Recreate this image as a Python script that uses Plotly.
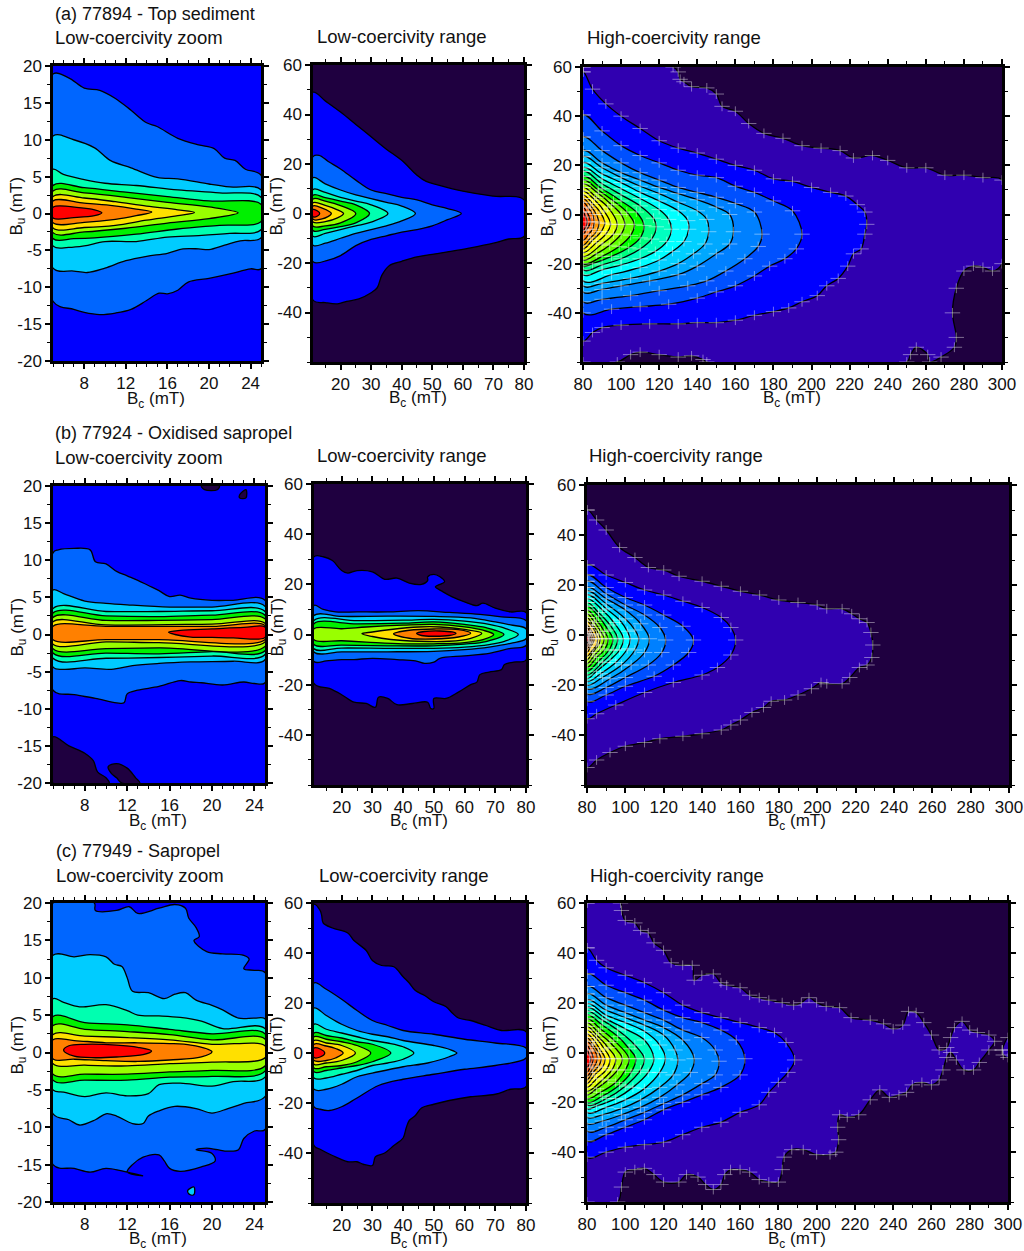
import plotly.graph_objects as go

# ---------- colours of the filled levels, outermost first ----------
DARK = "#1f0040"
INDIGO = "#3000b0"
BLUE = "#0000ff"
LOW_LEVELS = ["#0066ff", "#00ccff", "#00ffb0", "#00f000", "#99ff00", "#ffe000", "#ff8000", "#ff0000"]
RANGE_LEVELS = [BLUE, "#0066ff", "#00ccff", "#00ffb0", "#00f000", "#99ff00", "#ffe000", "#ff8000", "#ff0000"]
HIGH_LEVELS = [INDIGO, BLUE, "#0050ff", "#0080ff", "#00a8ff", "#00d0ff", "#00ffff", "#00ffc0", "#00ff80", "#00ff00",
               "#60ff00", "#a0ff00", "#e0ff00", "#ffff00", "#ffc800", "#ff9800", "#ff6800", "#ff3800", "#ff0000"]

# ---------- contour outlines: (Bc mT, Bu mT) ----------
A1 = [
 [(5,20),(25,20),(25,-20),(5,-20)],
 [(5,18.9),(6.5,18.4),(8,17),(9.5,16.7),(11,15.6),(12.5,14),(14,12.3),(15,11.8),(17,10.2),(19,9.3),(20.5,8.8),(21.5,7.5),(22.5,7.2),(23.5,6),(25,5.2),
  (25,-7.5),(24,-7.5),(22,-8.2),(20,-8.8),(18,-9.3),(17,-10.4),(16,-10.9),(15.2,-10.8),(14,-11.8),(12.5,-13),(11,-13.5),(9.5,-13.7),(8,-13.4),(7,-13),(5,-11.9)],
 [(5,10.5),(7,10),(9,8.9),(10.5,7.2),(12.5,6.2),(15,4.9),(17,4.7),(20,4),(22,3.6),(25,3.2),
  (25,-3.3),(23,-3.7),(21.5,-4.3),(20,-4.9),(19,-4.8),(17.5,-4.8),(16,-5.4),(14,-5.8),(12,-6.4),(10,-7.4),(8.3,-8),(7,-7.8),(5,-7.4)],
 [(5,6),(6,5.3),(8,4.6),(10,4.1),(13,3.8),(17,3.2),(21,2.8),(25,2.2),
  (25,-2.2),(22,-2.7),(19,-3),(16,-3.2),(13,-3.8),(10,-3.8),(8,-4.4),(6.5,-4.6),(5,-4.4)],
 [(5,3.8),(8,3.5),(12,2.9),(16,2.3),(20,1.7),(25,1.25),
  (25,-1.1),(21,-1.6),(17,-2.1),(13,-2.8),(9,-3.3),(7,-3.4),(5,-3.4)],
 [(5,3.05),(8,2.8),(12,2.2),(16,1.5),(20,0.9),(22.8,0.1),(20,-0.7),(16,-1.3),(12,-2),(8,-2.5),(5,-2.6)],
 [(5,2.3),(8,2.1),(11,1.6),(14,1.0),(17,.5),(18.6,.15),(17,-.3),(14,-.9),(11,-1.6),(8,-1.9),(5,-1.95)],
 [(5,1.7),(8,1.4),(10.5,1.1),(13,.6),(14.5,.2),(13,-.3),(11,-.8),(8,-1.2),(5,-1.25)],
 [(5,.85),(7.5,.8),(9,.5),(9.7,.1),(9,-.3),(7,-.55),(5,-.6)],
]
A1_COLOURS = [BLUE] + LOW_LEVELS

A2 = [
 [(11,49),(15,45.5),(20,41),(25,36),(30,31),(35,26),(40,21.5),(45,15.5),(48,13),(52,11.5),(60,9),(70,7),(80,5.5),
  (80,-9.3),(75,-10.3),(70,-12),(62,-14),(55,-15.5),(50,-16.5),(45,-17.5),(40,-19.3),(36,-21),(33.5,-25),(32,-30),(30,-32),(26,-34.5),(22,-35.5),(19,-36.5),(15,-36),(11,-35)],
 [(11,23),(13,23.5),(16,21),(20,18),(25,13.5),(30,9.5),(35,8),(40,6.5),(45,5.5),(50,3.5),(55,2),(59.5,0),
  (55,-2.5),(50,-5),(45,-6.5),(40,-7.5),(35,-9),(30,-10.5),(25,-13),(20,-17),(16,-18.8),(11,-19.5)],
 [(11,14.5),(15,12),(20,9.5),(25,7.5),(30,6),(35,4.5),(40,3),(44.5,0),(40,-3),(35,-5),(30,-6.5),(25,-8),(20,-10),(15,-12),(11,-12.8)],
 [(11,9.7),(15,8.5),(20,6.5),(25,5),(30,3.5),(35.5,0),(30,-3.5),(25,-5),(20,-6.5),(15,-8),(11,-9.2)],
 [(11,7.4),(15,6.4),(20,5),(25,3.5),(29.5,0),(25,-3.8),(20,-5.3),(15,-6.4),(11,-6.9)],
 [(11,5.9),(15,5),(20,3.2),(25,0),(20,-3.8),(15,-5),(11,-5.1)],
 [(11,4.3),(15,3.3),(19,1.5),(21,0),(19,-1.8),(15,-3.3),(11,-3.4)],
 [(11,3),(14,2.2),(17,0),(14,-2.2),(11,-2.3)],
 [(11,1.6),(12.5,1),(13.2,0),(12.5,-1),(11,-1.3)],
]
A2_COLOURS = RANGE_LEVELS

A3 = [
 [(80,60),(127.3,60),(130,58),(131,55),(133,54),(137,52),(145,51.5),(150,49),(153,44),(160,42),(167,37),(175,33),(185,31),(195,28),(205,27),(215,26),(222,23),(232,24),(240,22),(250,19),(260,19),(270,16),(280,16),(290,15),(300,14),
  (300,-20),(295,-23),(290,-21.5),(285,-21),(280,-23),(276,-30),(274,-40),(276,-50),(275,-54),(268,-58),(262,-60),(261,-57),(255,-54),(252,-57),(250,-60),
  (145,-60),(143,-59),(137,-57.5),(130,-58),(120,-57),(110,-56),(105,-57),(98,-60),(80,-60)],
 [(80,58),(85,51),(92,45),(100,40),(110,35),(120,30),(130,27),(140,25),(150,22.5),(160,20),(170,18),(180,14.5),(190,13.5),(200,11),(210,9),(218,7.5),(224,4),(228,1),(229,-4),
  (228,-8),(226,-14),(222,-16),(219,-21),(214,-26),(208,-29),(203,-33),(195,-35.5),(188,-38),(180,-39.5),(170,-41),(160,-43),(150,-44),(140,-44),(130,-44.5),(115,-44.5),(100,-45),(90,-46),(85,-48),(80,-51.5)],
 [(80,40.5),(90,34),(100,28),(110,24),(120,21),(130,18),(140,16),(150,15),(160,11.5),(170,9),(180,5.5),(190,1.5),(195,-8),
  (192,-14),(186,-18),(178,-21),(170,-25),(160,-29),(150,-31.5),(140,-34),(125,-36.5),(110,-37.5),(95,-38.5),(80,-40)],
 [(80,31.5),(90,26),(100,21),(110,17),(120,14),(130,11),(140,9),(150,7),(160,4.5),(170,1),(174,-8),(172,-13),(165,-18),(155,-23),(145,-27),(135,-29),(120,-31),(105,-33),(90,-34.5),(80,-35.5)],
 [(80,26),(90,21),(100,17),(110,14),(120,11),(130,8.5),(140,6),(150,3),(157,0),(159,-7),(157,-12),(150,-16),(140,-21),(130,-24.5),(115,-27),(100,-29),(90,-30.5),(80,-31.5)],
 [(80,23.5),(90,19),(100,15),(110,11.5),(120,8.5),(130,5),(140,1.5),(145,-2),(146,-7),(144,-12),(138,-16),(130,-20),(120,-23),(105,-26),(90,-28),(80,-29)],
 [(80,21),(90,16.5),(100,13),(110,9),(120,5.5),(130,1.5),(135,-2.5),(135.5,-6),(133,-11),(127,-15),(120,-18.5),(110,-21.5),(95,-24.5),(80,-27)],
 [(80,19),(90,14.5),(100,10.5),(110,6.5),(120,2),(125,-2),(126.5,-6),(124,-11),(118,-15),(110,-18),(100,-20.5),(90,-22.5),(80,-24.5)],
 [(80,17.5),(90,12.5),(100,8),(110,3.5),(117,-1.5),(118.5,-5),(116,-10),(110,-14),(100,-18),(90,-20.5),(80,-22.5)],
 [(80,15.5),(90,10.5),(100,5.5),(108,1),(112,-4.5),(110,-9.5),(104,-13.5),(95,-17),(85,-20),(80,-21)],
 [(80,14),(88,10),(96,5.5),(103,1),(107,-4),(105,-8.5),(99,-13),(90,-17),(80,-20)],
 [(80,12.5),(88,8.5),(95,4),(100,0),(102,-4),(100,-8),(94,-12.5),(87,-16),(80,-18.5)],
 [(80,11),(87,7),(93,3),(98,-4),(96,-8),(90,-12),(80,-17)],
 [(80,9.5),(86,6),(91,1.5),(94.5,-4),(92,-8),(87,-11.5),(80,-15.5)],
 [(80,8),(85,4.5),(89,1),(91.5,-3.5),(89.5,-7),(85,-10.5),(80,-14)],
 [(80,6.5),(84,3.5),(87,0),(88.5,-3.5),(87,-7),(84,-9.5),(80,-12.5)],
 [(80,5),(83,2.5),(85,0),(86,-3),(85,-6),(83,-8),(80,-10.5)],
 [(80,3),(82,1),(84,-3),(82,-6),(80,-8)],
 [(80,1),(81.5,-1),(82.3,-3),(81.5,-5),(80,-6.5)],
]
A3_COLOURS = HIGH_LEVELS

B1 = [
 [(5,20),(25,20),(25,-20),(5,-20)],
 [(5,-13.8),(6.5,-15),(8,-16),(8.8,-17),(9.2,-18.5),(10,-19.3),(10.3,-20),(5,-20)],
 [(10.2,-17.8),(11,-17.4),(12,-18),(12.8,-19.3),(13.2,-20),(11.5,-20),(11,-19.3),(10.5,-18.7)],
 [(19,20),(19.3,19.5),(20.5,19.5),(20.7,20)],
 [(22.6,18.8),(23.2,19.5),(23.2,18.4),(22.6,18.4)],
 [(5,11),(5.5,11.4),(7,11.6),(8.5,11.4),(9,9.8),(10,9.5),(11,8.5),(12,7.9),(13,7.3),(14,6.6),(15,5.9),(16,5.1),(17,5.3),(18,4.9),(20,4.6),(22,4.6),(25,4.6),
  (25,-6.5),(24,-6.6),(23,-6.4),(21,-6.8),(19,-6.5),(18,-6.4),(17,-6.2),(15,-7),(13,-7.5),(12,-8),(11.7,-9.2),(11,-9.2),(9,-8.6),(7,-8.1),(5,-7.5)],
 [(5,6),(6,5.5),(8,4.5),(10,4.2),(12,4),(16,3.7),(20,3.7),(25,3.8),
  (25,-3.4),(22,-3.6),(18,-3.7),(15,-3.9),(12.5,-4.2),(10.5,-4.7),(8,-4.5),(6,-4.7),(5,-4.4)],
 [(5,3.5),(10,3.1),(15,3.1),(20,3.2),(25,3.1),(25,-2.7),(20,-2.9),(15,-3.1),(10,-3.2),(5,-3.2)],
 [(5,2.9),(10,2.5),(15,2.4),(20,2.6),(25,2.6),(25,-2.2),(20,-2.3),(15,-2.6),(10,-2.5),(5,-2.5)],
 [(5,2.3),(10,1.9),(15,1.9),(20,2),(25,2.1),(25,-1.6),(15,-1.8),(10,-1.9),(5,-1.9)],
 [(5,1.7),(10,1.3),(20,1.4),(25,1.5),(25,-1),(15,-1.1),(10,-1),(5,-1.3)],
 [(5,1.1),(10,1.1),(20,1.1),(25,1.2),(25,-.7),(15,-.7),(10,-.7),(5,-.7)],
 [(15.9,.3),(17,.55),(20,.75),(23,.95),(25,1),(25,-.4),(22,-.45),(20,-.4),(18,-.35),(16.5,0)],
]
B1_COLOURS = [BLUE, DARK, DARK, DARK, DARK] + LOW_LEVELS[:3] + ["#00f000", "#99ff00", "#ffe000", "#ff8000", "#ff0000"]

B2 = [
 [(11,31),(14,31),(17,29.5),(20,25.5),(22,24.5),(25,25.5),(30,25),(34,22),(38,22.5),(42,20.5),(46,20),(48,21.5),(48,23),(50,24),(52,23),(53.5,21),(52,20),(50.5,19),(53,17),(56,15),(60,13),(64,11.5),(66,12.5),(70,10.5),(75,9),(80,8.8),
  (80,-10.2),(76,-11),(73,-12),(72,-14),(68,-15),(65,-16),(64,-19),(62,-20),(58,-23),(54,-25.5),(50,-25.5),(50,-29.5),(49,-29.5),(48,-27),(43,-27.5),(38,-28),(35,-25.5),(32,-25),(31,-29),(28,-27.5),(24,-27),(20,-24),(16,-21.5),(11,-19.5)],
 [(11,11.6),(14,10),(18,9),(25,9),(35,9),(45,9.5),(55,8.8),(65,8),(72,7),(80,5.5),
  (80,-4.4),(75,-5.5),(68,-7.5),(60,-8.5),(52,-9.5),(50,-11),(47,-11.5),(44,-10.5),(38,-10),(30,-9.5),(24,-10),(20,-10),(15,-10.5),(11,-10.8)],
 [(11,7.6),(20,7.2),(35,7.3),(50,7.2),(62,6.6),(70,5),(75,3.8),(80,2.3),(80,-1.7),(75,-3.5),(68,-5),(60,-6),(50,-6.7),(35,-6.9),(20,-6.9),(11,-7)],
 [(11,5.6),(25,5.5),(40,5.7),(50,6),(60,5.3),(68,4),(73,2.5),(77.5,0),(73,-2.7),(68,-4),(60,-5),(50,-5.5),(35,-5.5),(20,-5.4),(11,-5.7)],
 [(11,4.3),(25,4.2),(40,4.5),(50,5),(60,4),(67,2.7),(72.8,0),(67,-2.8),(60,-3.8),(50,-4.5),(35,-4.5),(20,-4.2),(11,-4)],
 [(11,2.3),(20,2.3),(28,3),(40,3.7),(50,4),(60,3),(66,1.7),(69.5,0),(66,-2),(60,-3.2),(50,-3.7),(40,-3.7),(28,-3),(20,-2.5),(11,-2.1)],
 [(26.6,.3),(30,1),(36,2),(45,3),(52,3),(60,2),(65.6,.5),(62,-1.5),(55,-2.7),(45,-2.7),(36,-2),(30,-.8)],
 [(36.9,.3),(42,1.7),(50,2.2),(58,1.9),(62,.5),(58,-1),(50,-1.8),(42,-1.5)],
 [(44.4,.5),(47,1.2),(52,1.4),(56,1),(57.2,.4),(55,-.4),(50,-.7),(46,-.4)],
]
B2_COLOURS = RANGE_LEVELS

B3 = [
 [(80,50),(85,46),(90,42),(97,35),(105,31),(112,27),(120,26),(128,23.5),(140,21.5),(150,19.5),(160,17.5),(170,16),(180,14),(190,13),(200,12),(205,10.5),(213,10.5),(218,8.5),(222,6.5),(226,5),(228,1),(229,-4),
  (228.5,-9),(226,-12),(222,-13),(217,-17),(213,-19.5),(205,-19.5),(202,-19),(197,-21.5),(190,-24),(183,-26),(176,-26.5),(172,-29),(166,-31),(160,-34),(155,-36),(150,-38),(140,-39.5),(130,-40.5),(118,-41.5),(110,-43),(100,-44.5),(92,-47),(85,-50),(80,-53)],
 [(80,28),(90,24),(100,21),(110,18),(120,16),(130,13.5),(140,11),(150,7),(155,3),(157.5,-2),(155,-8),(148,-13),(140,-16),(125,-19),(110,-23),(95,-28),(85,-31.5),(80,-33.5)],
 [(80,24),(90,19),(100,15),(110,12),(120,8),(130,3.5),(135.5,-2),(133,-7),(125,-12),(115,-16.5),(100,-20.5),(90,-24),(80,-26.5)],
 [(80,21.5),(90,16.5),(100,12),(110,8),(118,3),(121,-2),(119,-7),(112,-12),(100,-17),(90,-21),(80,-23.5)],
 [(80,19),(90,14.5),(100,10),(108,4.5),(112.5,-1.5),(110,-7),(103,-12),(92,-17.5),(80,-21.5)],
 [(80,17.5),(90,12.5),(100,6.5),(105,2),(107,-1.5),(105,-6),(98,-12),(88,-17),(80,-20)],
 [(80,16),(90,10.5),(97,6),(101,1.5),(102.5,-1.5),(101,-5.5),(95,-11),(87,-15.5),(80,-18.5)],
 [(80,14.5),(88,10),(94,5),(99,-1.5),(97,-6),(92,-10),(85,-14.5),(80,-17.5)],
 [(80,13),(86,9),(92,4),(96,-1.5),(94,-6),(88,-11),(80,-16)],
 [(80,11.5),(86,7.5),(91,2),(93.5,-1.5),(91.5,-6),(86,-10.5),(80,-14.5)],
 [(80,10),(85,6),(89,1.5),(91,-1.5),(89,-6),(85,-9),(80,-13)],
 [(80,8.5),(84,5),(87,1.5),(89,-1.5),(87,-5.5),(84,-8),(80,-11.5)],
 [(80,7),(83,4),(86,.5),(87,-1.5),(86,-4),(83,-7),(80,-10)],
 [(80,5.5),(83,3),(85,0),(85.5,-1.5),(85,-4),(83,-6),(80,-8.5)],
 [(80,4),(82,2),(84,-1.5),(82,-4.5),(80,-7)],
 [(80,3),(82,.5),(83,-1.5),(82,-3.5),(80,-5.5)],
 [(80,1.5),(81.3,0),(82,-1.5),(81.3,-3),(80,-4.5)],
 [(80,.5),(80.7,-.5),(81,-1.5),(80.7,-2.5),(80,-3.5)],
]
B3_COLOURS = [INDIGO, BLUE, "#0050ff", "#0080ff", "#00a8ff", "#00d0ff", "#00ffff", "#00ffc0", "#00ff80", "#00ff00",
              "#60ff00", "#a0ff00", "#ffff00", "#ffc800", "#ff9800", "#ff6800", "#ff3800", "#ff0000"]

C1 = [
 [(5,20),(25,20),(25,-20),(5,-20)],
 [(5,20),(8.9,20),(9,19),(11,19),(12.2,19.5),(13,18.6),(15,19.3),(16.5,19.8),(17.5,19.3),(17.8,18),(18.5,16.7),(18.8,15.5),(18.3,15),(19.5,13.5),(21,13.2),(23,13),(23.5,12.5),(23,11.2),(24,11),(25,10.7),
  (25,-10.3),(24,-10.5),(23,-11.5),(22.5,-13),(21.5,-13.2),(20.5,-13),(19.5,-12.8),(18.5,-13),(20,-13.5),(20.3,-14.5),(19,-15.3),(17,-15.9),(16,-15.5),(15.5,-14.5),(15,-13.7),(13.5,-14),(12.5,-15),(12,-16),(13.5,-16.5),(12,-16),(10,-15.5),(8.5,-16),(7,-15.5),(5,-15)],
 [(17.7,-18.5),(18.3,-18),(18.3,-19),(17.9,-19)],
 [(5,13),(7,12.8),(8.5,13.1),(10,12.8),(10.8,11.8),(11.5,11.5),(12,10),(12.5,8.2),(14,8),(15.5,7.2),(16.5,7.8),(17.5,8),(18.5,7),(20,6.3),(21,5.7),(22.5,4.6),(24,4.6),(25,4.5),
  (25,-5.9),(23,-6.8),(21.5,-7.5),(20,-8.1),(18.5,-7.5),(16.5,-7.2),(15,-7.8),(14,-8.5),(13.5,-9.5),(12.5,-9.5),(11,-8.5),(10,-8.2),(9,-9),(7.5,-9.7),(6.5,-9),(5,-8.2)],
 [(5,7.2),(6,6.7),(7.5,6.1),(10,6.4),(12,5.6),(13,5),(15,4.9),(17,4.7),(19,4.2),(21,3.2),(25,3.2),
  (25,-3.3),(22,-3.9),(20,-4.5),(17,-4.1),(15,-4.3),(14,-5.5),(12,-5.8),(10,-5.4),(8,-5.9),(6,-5.3),(5,-5)],
 [(5,4.8),(8,4),(12,3.7),(16,3.1),(20,2.5),(25,2.5),(25,-2.5),(20,-3.2),(16,-3.3),(12,-3.7),(8,-3.7),(5,-3.7)],
 [(5,3.6),(8,3.1),(12,2.8),(16,2.4),(20,1.7),(25,1.8),(25,-1.8),(20,-2.4),(16,-2.6),(12,-2.9),(8,-2.9),(5,-2.9)],
 [(5,2.4),(8,2.2),(12,2),(16,1.7),(20,1.1),(25,.9),(25,-.7),(20,-1.3),(16,-1.5),(12,-1.8),(8,-1.7),(5,-1.5)],
 [(5,1.7),(7,1.6),(10,1.3),(13,1.3),(16,1.2),(18,1),(19.5,.5),(20,.1),(19,-.6),(16,-1),(13,-1.2),(10,-1.1),(7,-.9),(5,-.85)],
 [(6,.3),(6.5,.9),(8,1.1),(11,1),(13,.7),(14.3,.2),(13.5,-.3),(11,-.6),(9,-.7),(7,-.5)],
]
C1_COLOURS = [BLUE, "#0066ff", "#00ccff", "#00ccff", "#00ffb0", "#00f000", "#99ff00", "#ffe000", "#ff8000", "#ff0000"]

C2 = [
 [(11,59.5),(13,57),(13.5,55),(14,52),(17,50),(22,48),(24,45),(28,41),(30,37),(33,35),(37,34.5),(40,30.5),(42,28),(44,25),(47,23),(50,20.5),(54,18.5),(56,16),(58,14),(62,13),(67,11),(72,9),(80,8.5),
  (80,-13.5),(75,-14.5),(70,-16.5),(62,-17.5),(55,-19),(50,-20.5),(46,-22),(44,-25),(42,-27),(41,-30),(40,-34),(37,-37),(34,-40),(31,-41.5),(30,-45),(27,-44.5),(25,-43.5),(22,-43.5),(17,-41),(13,-38.5),(11,-37)],
 [(11,28),(15,25.5),(20,21.5),(25,17),(30,13),(35,11),(40,9),(50,7.5),(60,5.5),(70,4),(80,2),(80,-2),(70,-5),(60,-6.5),(50,-8.5),(40,-10.5),(32,-13),(25,-18),(20,-21.5),(16,-23),(13,-22.5),(11,-21.5)],
 [(11,18),(15,15),(20,11.5),(25,9),(30,7.5),(35,6.5),(40,5),(50,3),(55,1.5),(57.5,0),(55,-1.5),(48,-4),(40,-5.5),(32,-7.5),(25,-9.5),(20,-12.5),(15,-14.5),(11,-14.5)],
 [(11,11.5),(15,9.5),(20,8),(25,6.5),(30,5),(35,4),(40,2.5),(43.5,0),(40,-2.5),(35,-4),(30,-5),(25,-7),(20,-8.5),(15,-10),(11,-10)],
 [(11,8),(15,7),(20,6),(25,4.5),(30,3.5),(36,0),(30,-3.5),(25,-5),(20,-6),(15,-7),(11,-7.5)],
 [(11,6.5),(15,5.5),(20,4.5),(25,3),(29.5,0),(25,-3.5),(20,-5),(15,-5.5),(11,-6)],
 [(11,5),(15,4),(20,3),(24.5,0),(20,-3),(15,-4),(11,-4.5)],
 [(11,3.5),(15,2.8),(18,1.8),(20.5,0),(18,-2),(15,-3),(11,-3)],
 [(11,2),(13,1.6),(14.5,0),(13,-1.6),(11,-1.8)],
]
C2_COLOURS = RANGE_LEVELS

C3 = [
 [(80,60),(97.5,60),(98,57),(100,53),(105,52),(108,49),(112,48),(115,44),(120,41),(124,36),(130,35),(135,35),(136,29),(140,31),(146,31.5),(150,28),(153,27),(160,26),(165,23),(170,22),(175,21),(182,20),(188,19),(192,20),(196,22),(200,20),(205,18.5),(212,18),(218,14),(228,13),(235,11.5),(240,9.5),(245,11),(248,16.5),(252,16),(256,12),(260,7),(264,1),(268,2),(270,6),(272,10),(276,12.5),(280,9),(284,8),(290,7),(293,4.5),
  (290,1),(285,-4),(282,-7),(277,-7),(273,-3),(270,0),(268,-2),(266,-7),(264,-11),(260,-13),(255,-12),(250,-13),(247,-16),(243,-17),(238,-18),(233,-15),(228,-19),(222,-25),(216,-26),(212,-25),(211,-30),(211.5,-35),(210,-40),(207,-41),(200,-41),(193,-39),(187,-39),(183,-42),(182,-47),(180,-52),(175,-52),(170,-51),(165,-48),(160,-47),(155,-47),(152,-49),(150,-53),(146,-55),(142,-53),(138,-50),(132,-49),(128,-52),(120,-52),(115,-49),(110,-46.5),(105,-47),(100,-48),(98,-54),(96,-60),(80,-60)],
 [(297,1),(300,6),(300,-2),(297.5,-1)],
 [(80,42),(85,37),(90,34),(100,31),(110,28),(120,24),(130,19),(140,16),(150,14),(160,12),(170,10),(178,8),(184,4),(188.5,-3),(185,-8),(180,-12),(175,-16),(170,-21),(160,-24),(150,-28),(140,-30),(130,-33),(120,-36),(110,-37),(100,-38),(90,-40),(80,-42)],
 [(80,31.5),(90,27),(100,24),(110,21),(120,17),(130,14),(140,12),(150,9),(158,5),(162.5,-2.5),(160,-9),(150,-14),(140,-17),(130,-20),(120,-23),(110,-27),(100,-30),(90,-33),(80,-35.5)],
 [(80,26.5),(90,22),(100,19),(110,16),(120,13),(130,9),(140,6),(147,1),(149,-3.5),(147,-9),(140,-12.5),(130,-17),(120,-20.5),(110,-24),(100,-27),(90,-30),(80,-31.5)],
 [(80,23.5),(90,19),(100,16),(110,13),(120,10),(130,5),(136,-2.5),(134,-8),(127,-13),(118,-18),(108,-22),(98,-25),(88,-27.5),(80,-28.5)],
 [(80,21),(90,17),(100,14),(110,11),(120,7),(126,1),(127.5,-3),(125,-9),(118,-14),(108,-19),(98,-22.5),(88,-25),(80,-26)],
 [(80,19.5),(90,15),(100,12),(110,8.5),(118,3),(121,-2.5),(118,-8),(110,-14.5),(100,-19),(90,-22),(80,-24)],
 [(80,18),(90,13.5),(100,9.5),(110,5),(115,-2.5),(112,-8),(104,-14),(95,-18.5),(85,-21.5),(80,-22.5)],
 [(80,16.5),(88,13),(96,9),(105,3),(110,-2.5),(108,-7),(100,-13.5),(90,-18.5),(80,-21)],
 [(80,15),(88,11),(96,6.5),(102,1.5),(105.5,-2.5),(103,-8),(97,-13),(88,-17.5),(80,-20)],
 [(80,13.5),(87,9.5),(94,5),(102,-2.5),(100,-7),(95,-12),(87,-16),(80,-18.5)],
 [(80,12),(86,8),(92,4),(98.5,-2.5),(96,-7),(91,-11),(85,-14.5),(80,-17)],
 [(80,10.5),(85,7),(91,2),(95,-2.5),(93,-7),(88,-11),(80,-15.5)],
 [(80,9),(85,5.5),(89,1.5),(92,-2.5),(90,-7),(85,-10.5),(80,-14)],
 [(80,7.5),(84,4.5),(87,1),(89.5,-2.5),(88,-6),(84,-9),(80,-12.5)],
 [(80,6),(83,3.5),(86,0),(87.5,-2.5),(86,-5.5),(83,-8),(80,-11)],
 [(80,4.5),(83,2),(85.5,-2.5),(83,-6.5),(80,-9.5)],
 [(80,3),(82,.5),(83.5,-2.5),(82,-5.5),(80,-8)],
 [(80,1),(81.3,-1),(82,-2.5),(81.3,-4.5),(80,-6)],
]
C3_COLOURS = [INDIGO, INDIGO] + HIGH_LEVELS[1:]

# ---------- ticks ----------
ZOOM_X_TICKS = [8, 12, 16, 20, 24]
ZOOM_Y_TICKS = [20, 15, 10, 5, 0, -5, -10, -15, -20]
LOW_X_TICKS = [20, 30, 40, 50, 60, 70, 80]
HIGH_X_TICKS = [80, 100, 120, 140, 160, 180, 200, 220, 240, 260, 280, 300]
WIDE_Y_TICKS = [60, 40, 20, 0, -20, -40]

TITLES = ["(a) 77894 - Top sediment", "(b) 77924 - Oxidised sapropel", "(c) 77949 - Sapropel"]
SUBTITLES = ["Low-coercivity zoom", "Low-coercivity range", "High-coercivity range"]

W, H = 1024, 1251
TEXT = "#111111"
FONT = "Liberation Sans, Arial, sans-serif"
KINDS = {
    "zoom": dict(xr=[5, 25], yr=[-20, 20], xt=ZOOM_X_TICKS, yt=ZOOM_Y_TICKS, xm=1, ym=2.5),
    "low": dict(xr=[11, 80], yr=[-60, 60], xt=LOW_X_TICKS, yt=WIDE_Y_TICKS, xm=5, ym=10),
    "high": dict(xr=[80, 300], yr=[-60, 60], xt=HIGH_X_TICKS, yt=WIDE_Y_TICKS, xm=10, ym=10),
}
# panel frame in pixels: left, right, top, bottom; position of the y title, x title and subtitle
PANELS = [
    (A1, A1_COLOURS, "zoom", 53, 261, 66, 361, 18, 400, 53, 38),
    (A2, A2_COLOURS, "low", 313, 524, 65, 362, 278, 399, 315, 36),
    (A3, A3_COLOURS, "high", 583, 1002, 67, 362, 548, 399, 585, 37),
    (B1, B1_COLOURS, "zoom", 53, 265, 486, 783, 18, 822, 53, 457),
    (B2, B2_COLOURS, "low", 314, 526, 484, 785, 278, 822, 315, 456),
    (B3, B3_COLOURS, "high", 587, 1009, 485, 785, 550, 822, 587, 456),
    (C1, C1_COLOURS, "zoom", 53, 265, 903, 1202, 18, 1240, 54, 875),
    (C2, C2_COLOURS, "low", 314, 526, 903, 1203, 278, 1240, 317, 875),
    (C3, C3_COLOURS, "high", 587, 1008, 903, 1202, 550, 1240, 588, 875),
]
HEAD_Y = [14, 433, 851]
HEAD_X = [53, 53, 54]

fig = go.Figure()
layout = {}
notes = []


def note(text, px, py, size, anchor="center", angle=0):
    notes.append(dict(text=text, x=px / W, y=1 - py / H, xref="paper", yref="paper", showarrow=False,
                      xanchor=anchor, yanchor="middle", textangle=angle, font=dict(size=size, color=TEXT, family=FONT)))


for n, (contours, colours, kind, left, right, top, bottom, ytx, xty, subx, suby) in enumerate(PANELS, start=1):
    k = KINDS[kind]
    for c, col in zip(contours, colours):
        xs = [p[0] for p in c] + [c[0][0]]
        ys = [p[1] for p in c] + [c[0][1]]
        is_frame = len(c) == 4 and c[0] == (k["xr"][0], k["yr"][1])
        fig.add_trace(go.Scatter(x=xs, y=ys, mode="lines", fill="toself", fillcolor=col, hoverinfo="skip",
                                 line=dict(color="black", width=0 if is_frame else 1.3, shape="linear" if is_frame else "spline", smoothing=1.0),
                                 xaxis=f"x{n}", yaxis=f"y{n}", showlegend=False))
        # the pale comb-like printing marks that follow the contours of the high-coercivity panels
        if kind == "high":
            for sym in ("line-ew", "line-ns"):
                fig.add_trace(go.Scatter(x=xs, y=ys, mode="markers", hoverinfo="skip", showlegend=False,
                                         marker=dict(symbol=sym, size=11 if sym == "line-ew" else 7,
                                                     line=dict(width=1, color="rgba(255,255,255,0.42)")),
                                         xaxis=f"x{n}", yaxis=f"y{n}"))
    common = dict(showgrid=False, zeroline=False, showline=True, linecolor="black", linewidth=2.5, mirror="ticks",
                  ticks="outside", ticklen=5, tickwidth=1.5, tickcolor="black",
                  tickfont=dict(size=17, color=TEXT, family=FONT), tickmode="array")
    layout[f"xaxis{n}"] = dict(common, domain=[left / W, right / W], range=k["xr"], anchor=f"y{n}",
                               tickvals=k["xt"], ticktext=[str(v) for v in k["xt"]],
                               minor=dict(dtick=k["xm"], tick0=0, ticks="outside", ticklen=3, tickwidth=1, tickcolor="black"))
    layout[f"yaxis{n}"] = dict(common, domain=[1 - bottom / H, 1 - top / H], range=k["yr"], anchor=f"x{n}",
                               tickvals=k["yt"], ticktext=[str(v) for v in k["yt"]],
                               minor=dict(dtick=k["ym"], tick0=0, ticks="outside", ticklen=3, tickwidth=1, tickcolor="black"))
    note("B<sub>u</sub> (mT)", ytx, (top + bottom) / 2 - 7, 17, angle=-90)
    note("B<sub>c</sub> (mT)", (left + right) / 2 - 1, xty, 17)
    note(SUBTITLES[(n - 1) % 3], subx, suby, 18.5, anchor="left")

for t, x, y in zip(TITLES, HEAD_X, HEAD_Y):
    note(t, x, y, 18, anchor="left")

fig.update_layout(width=W, height=H, margin=dict(l=0, r=0, t=0, b=0, autoexpand=False), paper_bgcolor="white", plot_bgcolor=DARK,
                  showlegend=False, annotations=notes, **layout)
fig.write_html("out.html", config={"displayModeBar": False}, post_script="document.body.style.margin='0';")
